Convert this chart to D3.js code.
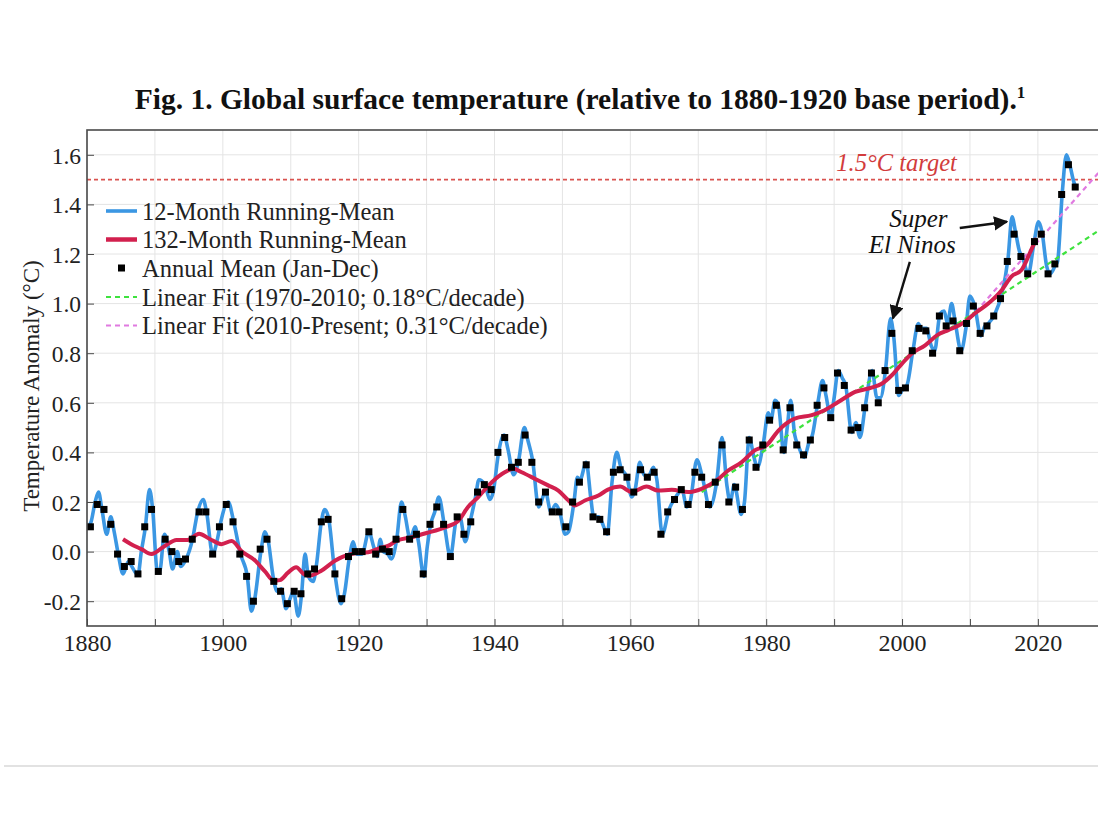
<!DOCTYPE html>
<html>
<head>
<meta charset="utf-8">
<script src="https://cdn.jsdelivr.net/npm/d3@7"></script>
<style>
  html, body { margin: 0; padding: 0; background: #fff; }
  svg { display: block; }
  text { font-family: "Liberation Serif", "Times New Roman", serif; }
</style>
</head>
<body>
<svg id="chart" width="1098" height="820"></svg>
<script>
// ---------------- DATA ----------------
const firstYear = 1880;
// Annual mean (Jan-Dec) anomalies, °C relative to 1880-1920, years 1880..2025
const annualMean = [
  0.10, 0.19, 0.17, 0.11, -0.01, -0.06, -0.04, -0.09, 0.10, 0.17,
  -0.08, 0.05, 0.00, -0.04, -0.03, 0.05, 0.16, 0.16, -0.01, 0.10,
  0.19, 0.12, -0.01, -0.10, -0.20, 0.01, 0.05, -0.12, -0.16, -0.21,
  -0.16, -0.17, -0.09, -0.07, 0.12, 0.13, -0.09, -0.19, -0.02, 0.00,
  0.00, 0.08, -0.01, 0.01, 0.00, 0.05, 0.17, 0.05, 0.07, -0.09,
  0.11, 0.18, 0.11, -0.02, 0.14, 0.07, 0.12, 0.24, 0.27, 0.25,
  0.40, 0.46, 0.34, 0.36, 0.47, 0.36, 0.20, 0.24, 0.16, 0.16,
  0.10, 0.20, 0.28, 0.35, 0.14, 0.13, 0.08, 0.32, 0.33, 0.30,
  0.24, 0.33, 0.30, 0.32, 0.07, 0.16, 0.21, 0.25, 0.19, 0.32,
  0.30, 0.19, 0.28, 0.43, 0.20, 0.26, 0.17, 0.45, 0.34, 0.43,
  0.53, 0.59, 0.41, 0.58, 0.43, 0.39, 0.45, 0.59, 0.66, 0.54,
  0.72, 0.67, 0.49, 0.50, 0.58, 0.72, 0.60, 0.73, 0.88, 0.65,
  0.66, 0.81, 0.90, 0.89, 0.80, 0.95, 0.91, 0.93, 0.81, 0.92,
  0.99, 0.88, 0.91, 0.95, 1.02, 1.17, 1.28, 1.19, 1.12, 1.25,
  1.28, 1.12, 1.16, 1.44, 1.56, 1.47
];

// 12-month running mean: [decimal year, anomaly]
const runningMean12 = [
  [1880.2,0.10],[1880.6,0.12],[1881.2,0.20],[1881.7,0.24],[1882.2,0.17],[1882.9,0.07],[1883.5,0.14],
  [1884.0,0.08],[1884.6,-0.01],[1885.3,-0.09],[1886.1,-0.04],[1886.6,-0.06],[1887.5,-0.095],[1888.0,0.0],
  [1888.6,0.10],[1889.2,0.25],[1889.7,0.16],[1890.3,-0.07],[1890.7,-0.08],[1891.4,0.07],[1892.1,0.0],
  [1892.6,-0.07],[1893.3,0.00],[1893.8,-0.06],[1894.6,-0.03],[1895.5,0.045],[1896.3,0.16],[1897.1,0.21],
  [1897.6,0.16],[1898.5,-0.01],[1899.2,0.05],[1899.7,0.12],[1900.8,0.20],[1901.6,0.12],[1902.6,-0.01],
  [1903.6,-0.10],[1904.2,-0.24],[1904.7,-0.19],[1905.6,0.00],[1906.2,0.08],[1906.7,0.04],[1907.4,-0.10],
  [1908.0,-0.16],[1908.6,-0.15],[1909.3,-0.23],[1909.9,-0.19],[1910.4,-0.16],[1911.1,-0.26],[1911.6,-0.17],
  [1912.1,-0.01],[1912.6,-0.10],[1913.3,-0.12],[1913.8,-0.05],[1914.5,0.12],[1915.0,0.17],[1915.6,0.13],
  [1916.5,-0.09],[1917.4,-0.21],[1917.9,-0.17],[1918.6,-0.03],[1919.2,0.04],[1919.7,-0.01],[1920.5,-0.01],
  [1921.5,0.08],[1922.2,0.02],[1922.7,-0.02],[1923.2,0.05],[1923.6,0.00],[1924.3,-0.01],[1924.8,-0.03],
  [1925.6,0.05],[1926.3,0.20],[1926.8,0.15],[1927.6,0.05],[1928.3,0.10],[1928.8,0.04],[1929.6,-0.10],
  [1930.1,0.02],[1930.6,0.11],[1931.2,0.16],[1931.8,0.22],[1932.6,0.11],[1933.5,-0.02],[1934.4,0.13],
  [1934.9,0.14],[1935.7,0.04],[1936.4,0.12],[1937.2,0.22],[1937.7,0.29],[1938.6,0.27],[1939.3,0.21],
  [1939.8,0.24],[1940.6,0.40],[1941.4,0.47],[1942.0,0.41],[1942.8,0.31],[1943.5,0.36],[1944.4,0.50],
  [1944.9,0.45],[1945.6,0.37],[1946.5,0.18],[1947.5,0.24],[1948.3,0.16],[1949.0,0.19],[1949.6,0.16],
  [1950.4,0.07],[1950.9,0.08],[1951.7,0.20],[1952.2,0.30],[1952.6,0.29],[1953.5,0.36],[1954.2,0.21],
  [1954.6,0.14],[1955.3,0.14],[1955.8,0.12],[1956.6,0.07],[1957.3,0.28],[1958.0,0.40],[1958.6,0.34],
  [1959.5,0.30],[1960.2,0.22],[1960.7,0.25],[1961.4,0.36],[1962.0,0.31],[1962.6,0.30],[1963.4,0.34],
  [1963.9,0.29],[1964.7,0.07],[1965.7,0.17],[1966.7,0.22],[1967.6,0.25],[1968.3,0.18],[1968.8,0.20],
  [1969.8,0.37],[1970.6,0.30],[1971.7,0.18],[1972.7,0.28],[1973.5,0.46],[1974.2,0.27],[1974.7,0.20],
  [1975.3,0.27],[1976.3,0.15],[1976.8,0.20],[1977.5,0.46],[1978.2,0.38],[1978.7,0.34],[1979.6,0.44],
  [1980.3,0.56],[1980.7,0.53],[1981.3,0.61],[1981.8,0.59],[1982.6,0.40],[1983.1,0.50],[1983.6,0.61],
  [1984.2,0.47],[1984.7,0.43],[1985.6,0.38],[1986.3,0.44],[1986.8,0.47],[1987.6,0.60],[1988.3,0.69],
  [1988.8,0.63],[1989.5,0.54],[1990.0,0.62],[1990.6,0.73],[1991.2,0.70],[1991.7,0.67],[1992.6,0.48],
  [1993.2,0.52],[1993.8,0.46],[1994.6,0.59],[1995.6,0.73],[1996.3,0.62],[1996.8,0.62],[1997.6,0.74],
  [1998.3,0.94],[1998.8,0.86],[1999.5,0.63],[2000.2,0.66],[2000.7,0.67],[2001.6,0.81],[2002.4,0.92],
  [2002.8,0.90],[2003.6,0.90],[2004.3,0.83],[2004.8,0.81],[2005.6,0.96],[2006.2,0.97],[2006.7,0.92],
  [2007.3,1.00],[2007.8,0.93],[2008.7,0.81],[2009.4,0.90],[2010.0,1.03],[2010.7,0.99],[2011.6,0.87],
  [2012.2,0.91],[2012.7,0.92],[2013.7,0.96],[2014.6,1.03],[2015.6,1.18],[2016.2,1.35],[2016.7,1.29],
  [2017.3,1.21],[2017.7,1.19],[2018.6,1.12],[2019.4,1.24],[2020.1,1.33],[2020.6,1.29],[2021.3,1.15],
  [2021.8,1.12],[2022.5,1.15],[2022.9,1.17],[2023.6,1.45],[2024.2,1.60],[2024.7,1.56],[2025.3,1.49],
  [2025.6,1.47]
];

// 132-month running mean: [decimal year, anomaly]
const runningMean132 = [
  [1885.3,0.05],[1886.5,0.03],[1888.0,0.01],[1889.5,-0.01],[1891.3,0.02],[1893.2,0.047],[1894.8,0.047],
  [1896.5,0.072],[1898.0,0.052],[1899.8,0.03],[1901.3,0.043],[1902.8,0.0],[1904.7,-0.035],[1906.2,-0.08],
  [1907.5,-0.117],[1908.4,-0.115],[1909.6,-0.085],[1910.8,-0.063],[1911.9,-0.09],[1912.8,-0.097],
  [1914.5,-0.077],[1916.5,-0.037],[1917.7,-0.02],[1919.5,-0.007],[1921.4,-0.003],[1923.1,0.014],
  [1924.4,0.024],[1925.6,0.044],[1927.8,0.058],[1930.0,0.075],[1932.7,0.098],[1934.7,0.125],[1936.1,0.18],
  [1937.6,0.22],[1939.6,0.28],[1941.5,0.32],[1942.8,0.334],[1944.0,0.32],[1946.0,0.293],[1947.9,0.267],
  [1949.4,0.246],[1950.9,0.206],[1951.8,0.186],[1953.3,0.206],[1955.3,0.226],[1956.7,0.25],[1958.5,0.262],
  [1960.2,0.24],[1962.4,0.262],[1964.1,0.246],[1966.1,0.249],[1968.5,0.24],[1970.5,0.253],[1972.7,0.287],
  [1974.4,0.327],[1976.4,0.361],[1978.3,0.408],[1980.1,0.43],[1981.8,0.488],[1984.2,0.536],[1986.7,0.55],
  [1988.6,0.57],[1990.6,0.603],[1993.1,0.644],[1995.5,0.661],[1997.0,0.677],[1998.5,0.711],[2000.0,0.758],
  [2001.4,0.798],[2003.4,0.832],[2005.3,0.875],[2006.8,0.893],[2009.3,0.927],[2010.7,0.96],[2012.7,1.0],
  [2014.7,1.055],[2016.1,1.109],[2017.6,1.136],[2018.8,1.203],[2019.8,1.264]
];

// Linear fits (end points)
const fit1970_2010 = [[1970.5, 0.24], [2029, 1.295]];
const fit2010_present = [[2010.0, 0.94], [2029, 1.53]];
const targetLevel = 1.5;

const xTicks = [1880, 1890, 1900, 1910, 1920, 1930, 1940, 1950, 1960, 1970, 1980, 1990, 2000, 2010, 2020];
const xTickLabels = [1880, 1900, 1920, 1940, 1960, 1980, 2000, 2020];
const yTicks = [-0.2, 0.0, 0.2, 0.4, 0.6, 0.8, 1.0, 1.2, 1.4, 1.6];

const legendLabels = [
  "12-Month Running-Mean",
  "132-Month Running-Mean",
  "Annual Mean (Jan-Dec)",
  "Linear Fit (1970-2010; 0.18°C/decade)",
  "Linear Fit (2010-Present; 0.31°C/decade)"
];

// ---------------- CHART ----------------
const svg = d3.select("#chart");
const L = 87, R = 1099, T = 130, B = 626;
const x = d3.scaleLinear().domain([1880, 2029]).range([L, R]);
const y = d3.scaleLinear().domain([-0.3, 1.7]).range([B, T]);

const C = {
  blue: "#3b97e3", red: "#d2204e", green: "#3ee23e", pink: "#e07ae0",
  target: "#d9534f", grid: "#e4e4e4", frame: "#4a4a4a"
};

// title
const title = svg.append("text")
  .attr("x", 580).attr("y", 109).attr("text-anchor", "middle")
  .style("font-size", "29.5px").style("font-weight", "bold").attr("fill", "#111");
title.append("tspan").text("Fig. 1. Global surface temperature (relative to 1880-1920 base period).");
title.append("tspan").attr("dy", -11).style("font-size", "17px").text("1");

// grid
const g = svg.append("g");
g.selectAll(".vg").data(xTicks).join("line")
  .attr("x1", d => x(d)).attr("x2", d => x(d)).attr("y1", T).attr("y2", B)
  .attr("stroke", C.grid).attr("stroke-width", 1);
g.selectAll(".hg").data(yTicks).join("line")
  .attr("x1", L).attr("x2", R).attr("y1", d => y(d)).attr("y2", d => y(d))
  .attr("stroke", C.grid).attr("stroke-width", 1);

// clip
svg.append("defs").append("clipPath").attr("id", "clip")
  .append("rect").attr("x", L).attr("y", T).attr("width", R - L).attr("height", B - T);
const plot = svg.append("g").attr("clip-path", "url(#clip)");

// target line
plot.append("line")
  .attr("x1", L).attr("x2", R).attr("y1", y(targetLevel)).attr("y2", y(targetLevel))
  .attr("stroke", C.target).attr("stroke-width", 1.6).attr("stroke-dasharray", "4,3");

const line = d3.line().x(d => x(d[0])).y(d => y(d[1]));
const smooth = d3.line().x(d => x(d[0])).y(d => y(d[1])).curve(d3.curveMonotoneX);

// 12-month
plot.append("path").datum(runningMean12).attr("d", smooth)
  .attr("fill", "none").attr("stroke", C.blue).attr("stroke-width", 3.6)
  .attr("stroke-linejoin", "round");

// fits
plot.append("path").datum(fit1970_2010).attr("d", line)
  .attr("fill", "none").attr("stroke", C.green).attr("stroke-width", 2.2).attr("stroke-dasharray", "5,4");
plot.append("path").datum(fit2010_present).attr("d", line)
  .attr("fill", "none").attr("stroke", C.pink).attr("stroke-width", 2.2).attr("stroke-dasharray", "5,4");

// 132-month
plot.append("path").datum(runningMean132).attr("d", smooth)
  .attr("fill", "none").attr("stroke", C.red).attr("stroke-width", 4)
  .attr("stroke-linejoin", "round");

// annual squares
const sq = 7;
plot.selectAll(".sq").data(annualMean).join("rect")
  .attr("x", (d, i) => x(firstYear + i + 0.5) - sq / 2)
  .attr("y", d => y(d) - sq / 2)
  .attr("width", sq).attr("height", sq).attr("fill", "#000");

// frame
svg.append("rect").attr("x", L).attr("y", T).attr("width", R - L).attr("height", B - T)
  .attr("fill", "none").attr("stroke", C.frame).attr("stroke-width", 1.6);

// axes with inward ticks
const xAxis = d3.axisBottom(x).tickValues(xTicks).tickSizeInner(-7).tickSizeOuter(0)
  .tickFormat(d => xTickLabels.includes(d) ? d : "");
const gx = svg.append("g").attr("transform", `translate(0,${B})`).call(xAxis);
gx.select(".domain").remove();
gx.selectAll("line").attr("stroke", C.frame);
gx.selectAll("text").attr("dy", 0).attr("y", 25).style("font-size", "24px").attr("fill", "#222")
  .style("font-family", '"Liberation Serif", serif');

const yAxis = d3.axisLeft(y).tickValues(yTicks).tickSizeInner(-7).tickSizeOuter(0)
  .tickFormat(d => d3.format(".1f")(d).replace("\u2212", "-"));
const gy = svg.append("g").attr("transform", `translate(${L},0)`).call(yAxis);
gy.select(".domain").remove();
gy.selectAll("line").attr("stroke", C.frame);
gy.selectAll("text").attr("x", -6).attr("dy", "0.35em").style("font-size", "23.5px").attr("fill", "#222")
  .style("font-family", '"Liberation Serif", serif');

// y label
svg.append("text").attr("transform", `translate(39,${(T + B) / 2 + 8}) rotate(-90)`)
  .attr("text-anchor", "middle").style("font-size", "23px").attr("fill", "#222")
  .text("Temperature Anomaly (°C)");

// target label
svg.append("text").attr("x", x(1999.2)).attr("y", y(1.535)).attr("text-anchor", "middle")
  .style("font-size", "24.5px").style("font-style", "italic").attr("fill", "#d23c3c")
  .text("1.5°C target");

// Super El Ninos annotation
svg.append("text").attr("x", x(2002.4)).attr("y", y(1.31)).attr("text-anchor", "middle")
  .style("font-size", "25px").style("font-style", "italic").attr("fill", "#111").text("Super");
svg.append("text").attr("x", x(2001.5)).attr("y", y(1.205)).attr("text-anchor", "middle")
  .style("font-size", "25px").style("font-style", "italic").attr("fill", "#111").text("El Ninos");

svg.select("defs").append("marker").attr("id", "arr").attr("viewBox", "0 0 10 10")
  .attr("refX", 9).attr("refY", 5).attr("markerWidth", 6).attr("markerHeight", 6)
  .attr("markerUnits", "strokeWidth")
  .attr("orient", "auto").append("path").attr("d", "M0,0 L10,5 L0,10 Z").attr("fill", "#111");

const arrows = [
  [[2001.15, 1.168], [1998.65, 0.94]],
  [[2008.5, 1.305], [2015.45, 1.33]]
];
svg.selectAll(".arrow").data(arrows).join("line")
  .attr("x1", d => x(d[0][0])).attr("y1", d => y(d[0][1]))
  .attr("x2", d => x(d[1][0])).attr("y2", d => y(d[1][1]))
  .attr("stroke", "#111").attr("stroke-width", 2.4).attr("marker-end", "url(#arr)");

// legend
const lg = svg.append("g");
const rowY = [211, 239.5, 268, 297, 325.5];
const lx0 = 106, lx1 = 137, tx = 142;
lg.append("line").attr("x1", lx0).attr("x2", lx1).attr("y1", rowY[0]).attr("y2", rowY[0])
  .attr("stroke", C.blue).attr("stroke-width", 3.6);
lg.append("line").attr("x1", lx0).attr("x2", lx1).attr("y1", rowY[1]).attr("y2", rowY[1])
  .attr("stroke", C.red).attr("stroke-width", 4.5);
lg.append("rect").attr("x", (lx0 + lx1) / 2 - 3.5).attr("y", rowY[2] - 3.5).attr("width", 7).attr("height", 7)
  .attr("fill", "#000");
lg.append("line").attr("x1", lx0).attr("x2", lx1).attr("y1", rowY[3]).attr("y2", rowY[3])
  .attr("stroke", C.green).attr("stroke-width", 2.2).attr("stroke-dasharray", "5,4");
lg.append("line").attr("x1", lx0).attr("x2", lx1).attr("y1", rowY[4]).attr("y2", rowY[4])
  .attr("stroke", C.pink).attr("stroke-width", 2.2).attr("stroke-dasharray", "5,4");
lg.selectAll(".lt").data(legendLabels).join("text")
  .attr("x", tx).attr("y", (d, i) => rowY[i]).attr("dy", "0.35em")
  .style("font-size", "24.5px").attr("fill", "#222").text(d => d);

// bottom separator line
svg.append("line").attr("x1", 4).attr("x2", 1098).attr("y1", 766).attr("y2", 766)
  .attr("stroke", "#e2e2e2").attr("stroke-width", 2);
</script>
</body>
</html>
